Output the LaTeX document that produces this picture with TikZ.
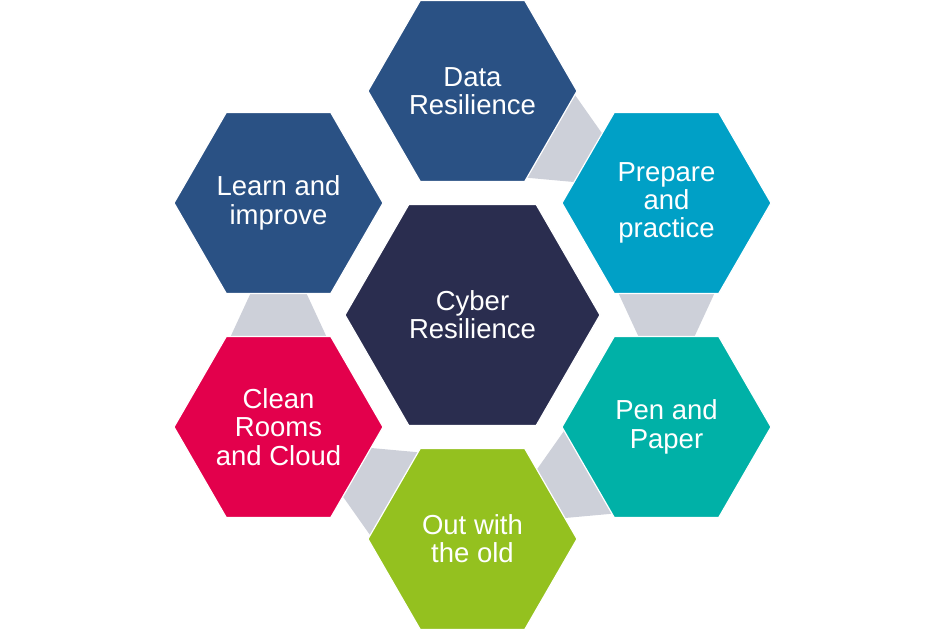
\documentclass[tikz,border=0pt]{standalone}
\usepackage{fontspec}
\setmainfont{Liberation Sans}
\usetikzlibrary{shapes.geometric, calc, backgrounds}
\definecolor{corenavy}{HTML}{2A2D4F}
\definecolor{deepblue}{HTML}{2A5184}
\definecolor{skyblue}{HTML}{00A0C6}
\definecolor{seateal}{HTML}{00B1A7}
\definecolor{limegreen}{HTML}{94C11F}
\definecolor{crimson}{HTML}{E3004C}
\definecolor{linkgray}{HTML}{CDD0D9}

\begin{document}
\begin{tikzpicture}[x=1pt, y=1pt,
    hex/.style={regular polygon, regular polygon sides=6,
      minimum size=209pt, inner sep=0pt, draw=white, line width=1.2pt,
      text=white, align=center, font=\fontsize{27.5}{28.3}\selectfont},
    link/.style={fill=linkgray}]
    \useasboundingbox (-472.5,-316) rectangle (472.5,315);

    \node[hex, fill=corenavy, minimum size=255pt] (0) at (0,0) {Cyber\\Resilience};
    \node[hex, fill=deepblue] (1) at (90:224pt) {Data\\Resilience};
    \node[hex, fill=skyblue] (2) at (30:224pt) {Prepare\\and\\practice};
    \node[hex, fill=seateal] (3) at (-30:224pt) {Pen and\\Paper};
    \node[hex, fill=limegreen] (4) at (-90:224pt) {Out with\\the old};
    \node[hex, fill=crimson] (5) at (-150:224pt) {Clean\\Rooms\\and Cloud};
    \node[hex, fill=deepblue] (6) at (150:224pt) {Learn and\\improve};

    % links between neighbours
    \begin{pgfonlayer}{background}
    \foreach \i/\j in {6/5, 5/4, 4/3, 3/2, 2/1}
        \fill[link] ($(\i.center)!94.7pt!17.2:(\j.center)$) -- ($(\i.center)!94.7pt!-17.2:(\j.center)$)
            -- ($(\j.center)!102.4pt!27.9:(\i.center)$) -- ($(\j.center)!102.4pt!-27.9:(\i.center)$) -- cycle;
    \end{pgfonlayer}
\end{tikzpicture}
\end{document}
